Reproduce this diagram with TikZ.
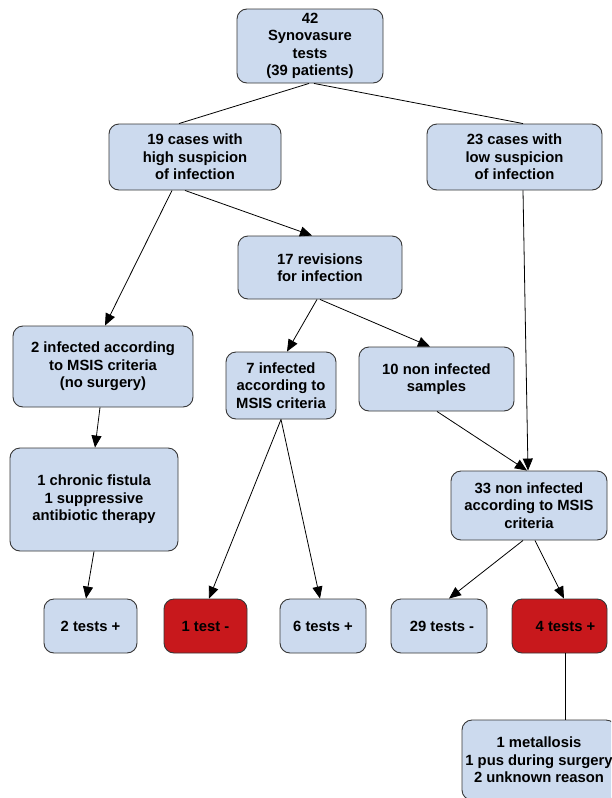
\documentclass[tikz,border=0pt]{standalone}
\usepackage{fontspec}
\setmainfont{Liberation Sans}
\usetikzlibrary{arrows.meta}
\definecolor{boxblue}{RGB}{204,218,238}
\definecolor{boxred}{RGB}{200,24,28}
\definecolor{boxline}{RGB}{55,55,55}
\tikzset{
  box/.style={draw=boxline, line width=0.9pt, fill=boxblue, rounded corners=10pt,
    align=center, inner sep=0pt, font=\fontsize{14.8}{17.5}\selectfont\bfseries},
  redbox/.style={box, fill=boxred},
  link/.style={draw=black, line width=0.8pt},
  arr/.style={link, -{Triangle[length=12pt,width=10pt]}}
}
\begin{document}
\begin{tikzpicture}[x=1pt,y=-1pt]
\useasboundingbox (0,0) rectangle (611,798);
\clip (0,0) rectangle (611,798);
\fill[white] (0,0) rectangle (611,798);

\node[box, minimum width=146pt, minimum height=74pt] (top) at (310,46) {42\\Synovasure\\tests\\(39 patients)};
\node[box, minimum width=172pt, minimum height=66pt] (high) at (195,157) {19 cases with\\high suspicion\\of infection};
\node[box, minimum width=175pt, minimum height=66pt] (low) at (514.5,157) {23 cases with\\low suspicion\\of infection};
\node[box, minimum width=164pt, minimum height=63pt] (rev) at (320,267.5) {17 revisions\\for infection};
\node[box, minimum width=180pt, minimum height=81pt] (inf2) at (103,366.5) {2 infected according\\to MSIS criteria\\(no surgery)};
\node[box, minimum width=110pt, minimum height=67pt] (inf7) at (281,385.5) {7 infected\\according to\\MSIS criteria};
\node[box, minimum width=155pt, minimum height=64pt] (non10) at (436.5,379) {10 non infected\\samples};
\node[box, minimum width=168pt, minimum height=103pt] (fist) at (94,499.5) {1 chronic fistula\\1 suppressive\\antibiotic therapy};
\node[box, minimum width=156pt, minimum height=69pt] (non33) at (529,505.5) {33 non infected\\according to MSIS\\criteria};
\node[box, minimum width=93pt, minimum height=54pt] (t2) at (90.5,626) {2 tests +};
\node[redbox, minimum width=83pt, minimum height=54pt] (t1) at (205.5,626) {1 test -};
\node[box, minimum width=86pt, minimum height=54pt] (t6) at (323,626) {6 tests +};
\node[box, minimum width=96pt, minimum height=54pt] (t29) at (439,626) {\hspace*{6pt}29 tests -};
\node[redbox, minimum width=95pt, minimum height=54pt] (t4) at (559.5,626) {\hspace*{12pt}4 tests +};
\node[box, minimum width=154pt, minimum height=80pt] (fin) at (539,760) {1 metallosis\\1 pus during surgery\\2 unknown reason};

\draw[link] ([xshift=-1pt]top.south) -- ([xshift=-16pt]high.north);
\draw[link] ([xshift=4pt]top.south) -- ([xshift=8.5pt]low.north);
\draw[arr] ([xshift=-23pt]high.south) -- ([xshift=2pt]inf2.north);
\draw[arr] ([xshift=-10pt]high.south) -- ([xshift=-8pt]rev.north);
\draw[arr] ([xshift=8.5pt]low.south) -- ([xshift=-1pt]non33.north);
\draw[arr] ([xshift=-3pt]rev.south) -- ([xshift=6pt]inf7.north);
\draw[arr] (rev.south) -- ([xshift=-6.5pt]non10.north);
\draw[arr] ([xshift=-3pt]inf2.south) -- ([xshift=1pt]fist.north);
\draw[arr] (fist.south) -- ([xshift=-4.5pt]t2.north);
\draw[arr] (inf7.south) -- ([xshift=3.5pt]t1.north);
\draw[arr] (inf7.south) -- ([xshift=-3pt]t6.north);
\draw[arr] ([xshift=0.5pt]non10.south) -- ([xshift=-2pt]non33.north);
\draw[arr] ([xshift=-6pt]non33.south) -- ([xshift=10pt]t29.north);
\draw[arr] ([xshift=6pt]non33.south) -- ([xshift=4.5pt]t4.north);
\draw[link] ([xshift=5.5pt]t4.south) -- ([xshift=26pt]fin.north);
\end{tikzpicture}
\end{document}
